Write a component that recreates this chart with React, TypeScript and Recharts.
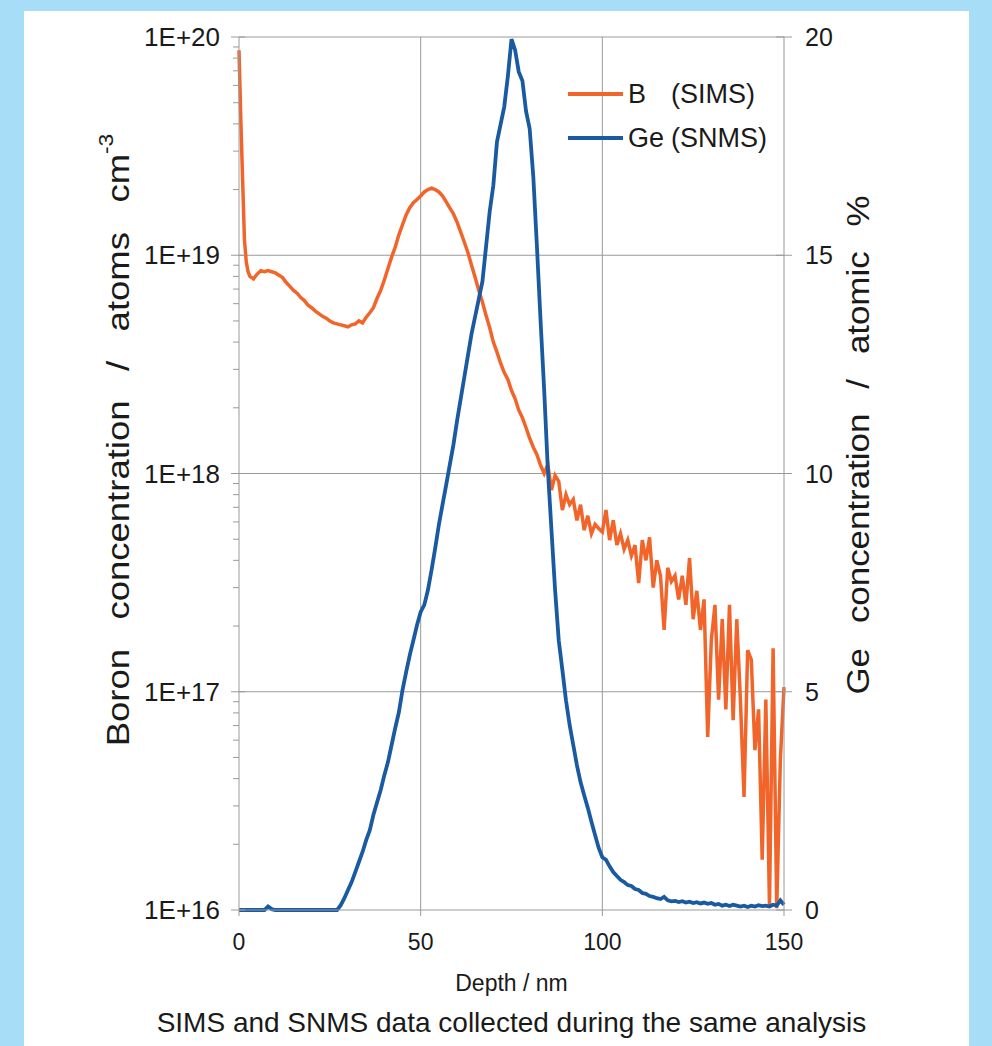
import React from 'react'
import { LineChart, Line, XAxis, YAxis, ReferenceLine, Legend } from 'recharts'

// depth in nm
const depth = [
  0, 0.5, 1, 1.5, 2, 2.5,
  3, 4, 5, 6, 7, 8, 9, 10, 11, 12, 13, 14, 15, 16, 17, 18, 19, 20,
  21, 22, 23, 24, 25, 26, 27, 28, 29, 30, 31, 32, 33, 34, 35, 36, 37, 38, 39, 40,
  41, 42, 43, 44, 45, 46, 47, 48, 49, 50, 51, 52, 53, 54, 55, 56, 57, 58, 59, 60,
  61, 62, 63, 64, 65, 66, 67, 68, 69, 70, 71, 72, 73, 74, 75, 76, 77, 78, 79, 80,
  81, 82, 83, 84, 85, 86, 87, 88, 89, 90, 91, 92, 93, 94, 95, 96, 97, 98, 99, 100,
  101, 102, 103, 104, 105, 106, 107, 108, 109, 110, 111, 112, 113, 114, 115, 116, 117, 118, 119, 120,
  121, 122, 123, 124, 125, 126, 127, 128, 129, 130, 131, 132, 133, 134, 135, 136, 137, 138, 139, 140,
  141, 142, 143, 144, 145, 146, 147, 148, 149, 150,
]

// B (SIMS), atoms cm-3
const boron = [
  8.7e19, 4.2e19, 2.2e19, 1.18e19, 9.3e18, 8.4e18,
  8.0e18, 7.8e18, 8.2e18, 8.5e18, 8.4e18, 8.5e18, 8.4e18, 8.3e18, 8.1e18, 7.9e18, 7.5e18, 7.2e18, 6.9e18, 6.7e18, 6.4e18, 6.2e18, 5.9e18, 5.75e18,
  5.55e18, 5.4e18, 5.25e18, 5.15e18, 5.0e18, 4.9e18, 4.85e18, 4.8e18, 4.75e18, 4.7e18, 4.8e18, 4.85e18, 5.0e18, 4.9e18, 5.2e18, 5.45e18, 5.75e18, 6.35e18, 6.9e18, 7.7e18,
  8.7e18, 9.8e18, 1.09e19, 1.24e19, 1.38e19, 1.53e19, 1.65e19, 1.74e19, 1.8e19, 1.87e19, 1.95e19, 2.0e19, 2.03e19, 2.0e19, 1.95e19, 1.87e19, 1.76e19, 1.65e19, 1.55e19, 1.42e19,
  1.28e19, 1.15e19, 1.03e19, 9.0e18, 7.9e18, 6.9e18, 6.1e18, 5.3e18, 4.65e18, 4.0e18, 3.6e18, 3.2e18, 2.9e18, 2.7e18, 2.4e18, 2.2e18, 1.95e18, 1.8e18, 1.62e18, 1.45e18,
  1.32e18, 1.22e18, 1.09e18, 1.0e18, 1.1e18, 8.4e17, 9.8e17, 9.2e17, 6.8e17, 8.0e17, 7.2e17, 7.6e17, 6.1e17, 7.2e17, 5.5e17, 6.4e17, 5.3e17, 5.85e17, 5.6e17, 5.4e17,
  6.8e17, 4.95e17, 6.1e17, 4.7e17, 5.3e17, 4.5e17, 4.95e17, 4.2e17, 4.7e17, 3.15e17, 4.95e17, 4.0e17, 5.1e17, 3.0e17, 4.0e17, 3.4e17, 1.92e17, 3.7e17, 3.2e17, 3.4e17,
  2.65e17, 3.4e17, 2.5e17, 4.1e17, 2.15e17, 2.9e17, 1.92e17, 2.65e17, 6.2e16, 1.73e17, 2.5e17, 9.2e16, 2.15e17, 8.3e16, 2.5e17, 7.4e16, 2.15e17, 9.2e16, 3.3e16, 1.55e17,
  1.4e17, 5.4e16, 8.3e16, 1.7e16, 9.2e16, 1.05e16, 1.58e17, 1.02e16, 4.9e16, 1.05e17,
]

// Ge (SNMS), atomic %
const germanium = [
  0, 0, 0, 0, 0, 0,
  0, 0, 0, 0, 0, 0.08, 0.02, 0, 0, 0, 0, 0, 0, 0, 0, 0, 0, 0,
  0, 0, 0, 0, 0, 0, 0, 0.11, 0.27, 0.46, 0.64, 0.87, 1.1, 1.33, 1.6, 1.83, 2.18, 2.47, 2.75, 3.09,
  3.39, 3.78, 4.17, 4.53, 5.04, 5.45, 5.84, 6.18, 6.53, 6.83, 6.99, 7.33, 7.79, 8.29, 8.82, 9.28, 9.73, 10.19, 10.65, 11.2,
  11.7, 12.2, 12.7, 13.2, 13.6, 14.0, 14.4, 15.2, 16.0, 16.6, 17.6, 18.0, 18.4, 19.1, 19.95, 19.7, 19.2, 19.0, 18.3, 17.9,
  16.8, 15.2, 13.5, 11.9, 10.1, 8.7, 7.33, 6.18, 5.5, 4.8, 4.24, 3.78, 3.32, 2.93, 2.63, 2.34, 2.02, 1.72, 1.42, 1.21,
  1.15, 1.0, 0.87, 0.78, 0.69, 0.64, 0.57, 0.55, 0.48, 0.46, 0.39, 0.37, 0.32, 0.3, 0.27, 0.25, 0.3, 0.22, 0.2, 0.21,
  0.18, 0.2, 0.17, 0.19, 0.16, 0.18, 0.15, 0.17, 0.14, 0.16, 0.12, 0.14, 0.1, 0.12, 0.09, 0.12, 0.1, 0.08, 0.1, 0.07,
  0.1, 0.08, 0.11, 0.09, 0.1, 0.08, 0.12, 0.1, 0.22, 0.12,
]

const depthTicks = [0, 50, 100, 150]
const boronDecades = [1e16, 1e17, 1e18, 1e19, 1e20]
const minorSteps = [2, 3, 4, 5, 6, 7, 8, 9]
const geTicks = [0, 5, 10, 15, 20]

const FONT = '"Liberation Sans", Arial, Helvetica, sans-serif'
const ORANGE = '#f1652a'
const BLUE = '#1a5aa0'
const GRID = '#9a9a9a'
const INK = '#1a1a1a'

const data = depth.map((d, i) => ({ depth: d, boron: boron[i], ge: germanium[i] }))

const boronTicks = boronDecades.flatMap((dec, i) =>
  i < boronDecades.length - 1 ? [dec, ...minorSteps.map((m) => m * dec)] : [dec],
)

const isDecade = (v: number) => boronDecades.some((d) => Math.abs(d - v) < d * 1e-9)
const fmtDecade = (v: number) => '1E+' + Math.round(Math.log10(v))

function BoronTick(props: any) {
  const { x, y, payload } = props
  const major = isDecade(payload.value)
  return (
    <g>
      <line x1={x - (major ? 8 : 6)} x2={x + (major ? 6 : 0)} y1={y} y2={y} stroke={GRID} strokeWidth={1} />
      {major && (
        <text x={x - 19} y={y + 9} textAnchor="end" fontSize={26} fontFamily={FONT} fill={INK}>
          {fmtDecade(payload.value)}
        </text>
      )}
    </g>
  )
}

function GeTick(props: any) {
  const { x, y, payload } = props
  return (
    <g>
      <line x1={x - 8} x2={x + 8} y1={y} y2={y} stroke={GRID} strokeWidth={1} />
      <text x={x + 21} y={y + 9} textAnchor="start" fontSize={25} fontFamily={FONT} fill={INK}>
        {payload.value}
      </text>
    </g>
  )
}

function DepthTick(props: any) {
  const { x, y, payload } = props
  return (
    <g>
      <line x1={x} x2={x} y1={y} y2={y + 6} stroke={GRID} strokeWidth={1} />
      <text x={x} y={y + 40} textAnchor="middle" fontSize={23} fontFamily={FONT} fill={INK}>
        {payload.value}
      </text>
    </g>
  )
}

function BoronTitle(props: any) {
  const vb = props.viewBox
  const cx = vb.x - 21
  const cy = 440
  return (
    <g transform={`translate(${cx},${cy}) rotate(-90) scale(1.14,1)`}>
      <text
        x={0}
        y={0}
        textAnchor="middle"
        dominantBaseline="central"
        fontSize={32}
        fontFamily={FONT}
        fill={INK}
        style={{ wordSpacing: 17 }}
      >
        Boron concentration / atoms cm<tspan dy={-12} fontSize={20}>-3</tspan>
      </text>
    </g>
  )
}

function GeTitle(props: any) {
  const vb = props.viewBox
  const cx = vb.x + 74
  const cy = 445
  return (
    <g transform={`translate(${cx},${cy}) rotate(-90) scale(1.09,1)`}>
      <text
        x={0}
        y={0}
        textAnchor="middle"
        dominantBaseline="central"
        fontSize={32}
        fontFamily={FONT}
        fill={INK}
        style={{ wordSpacing: 14 }}
      >
        Ge concentration / atomic %
      </text>
    </g>
  )
}

function DepthTitle(props: any) {
  const vb = props.viewBox
  const cx = vb.x + vb.width / 2
  return (
    <g>
      <text x={cx} y={991} textAnchor="middle" fontSize={23} fontFamily={FONT} fill={INK}>
        Depth / nm
      </text>
      <text x={cx} y={1032} textAnchor="middle" fontSize={28} fontFamily={FONT} fill={INK}>
        SIMS and SNMS data collected during the same analysis
      </text>
    </g>
  )
}

function LegendBox(props: any) {
  const items = props.payload || []
  return (
    <div style={{ fontFamily: FONT, fontSize: 27, color: INK }}>
      {items.map((it: any) => {
        const parts = String(it.value).split(' ')
        return (
          <div key={it.value} style={{ display: 'flex', alignItems: 'center', height: 44 }}>
            <div style={{ width: 55, height: 3.5, background: it.color }} />
            <span style={{ display: 'inline-block', width: 43, marginLeft: 5 }}>{parts[0]}</span>
            <span>{parts.slice(1).join(' ')}</span>
          </div>
        )
      })}
    </div>
  )
}

export default function App() {
  return (
    <div style={{ position: 'absolute', left: 0, top: 0, width: 992, height: 1046, background: '#a8ddf7', overflow: 'hidden' }}>
      <div style={{ position: 'absolute', left: 24, top: 11, width: 945, height: 1040, background: '#ffffff' }} />
      <div style={{ position: 'absolute', left: 0, top: 0 }}>
        <LineChart width={992} height={1046} data={data} margin={{ top: 37, right: 108, bottom: 76, left: 139 }}>
          <XAxis
            dataKey="depth"
            type="number"
            domain={[0, 150]}
            ticks={depthTicks}
            interval={0}
            tickSize={0}
            tickMargin={0}
            height={60}
            stroke={GRID}
            tick={<DepthTick />}
            label={(p: any) => <DepthTitle {...p} />}
          />
          <YAxis
            yAxisId="b"
            orientation="left"
            scale="log"
            domain={[1e16, 1e20]}
            allowDataOverflow
            ticks={boronTicks}
            interval={0}
            tickSize={0}
            tickMargin={0}
            width={100}
            stroke={GRID}
            tick={<BoronTick />}
            label={(p: any) => <BoronTitle {...p} />}
          />
          <YAxis
            yAxisId="g"
            orientation="right"
            domain={[0, 20]}
            ticks={geTicks}
            interval={0}
            tickSize={0}
            tickMargin={0}
            width={100}
            stroke={GRID}
            tick={<GeTick />}
            label={(p: any) => <GeTitle {...p} />}
          />
          {boronDecades.slice(1).map((v) => (
            <ReferenceLine key={v} yAxisId="b" y={v} stroke={GRID} strokeWidth={1} />
          ))}
          {depthTicks.slice(1, 3).map((v) => (
            <ReferenceLine key={v} yAxisId="b" x={v} stroke={GRID} strokeWidth={1} />
          ))}
          <Legend
            layout="vertical"
            align="center"
            verticalAlign="middle"
            content={<LegendBox />}
            wrapperStyle={{ left: 568, top: 72, width: 240, height: 90 }}
          />
          <Line
            yAxisId="b"
            type="linear"
            dataKey="boron"
            name="B (SIMS)"
            stroke={ORANGE}
            strokeWidth={3.5}
            dot={false}
            isAnimationActive={false}
          />
          <Line
            yAxisId="g"
            type="linear"
            dataKey="ge"
            name="Ge (SNMS)"
            stroke={BLUE}
            strokeWidth={3.8}
            dot={false}
            isAnimationActive={false}
          />
        </LineChart>
      </div>
    </div>
  )
}
